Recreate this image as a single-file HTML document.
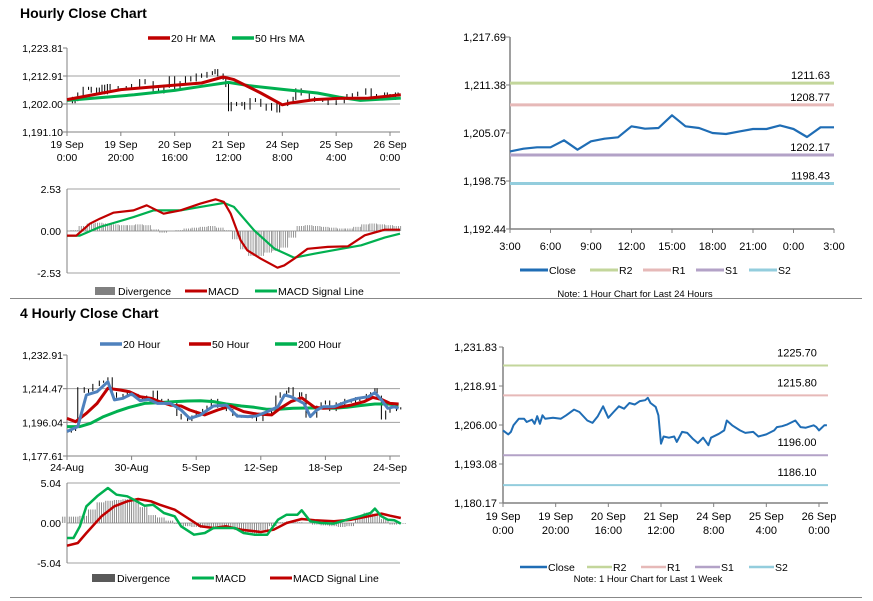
<!DOCTYPE html>
<html><head><meta charset="utf-8">
<style>
html,body{margin:0;padding:0;background:#fff;}
svg{display:block;font-family:"Liberation Sans",Arial,sans-serif;}
text{fill:#000;}
</style></head>
<body>
<svg id="s" width="873" height="601" viewBox="0 0 873 601" xmlns="http://www.w3.org/2000/svg">
<text x="20" y="18" font-size="14" font-weight="bold">Hourly Close Chart</text>
<text x="20" y="318" font-size="14" font-weight="bold">4 Hourly Close Chart</text>
<line x1="10" y1="298.5" x2="862" y2="298.5" stroke="#888"/>
<line x1="10" y1="597.5" x2="862" y2="597.5" stroke="#888"/>
</svg>
<script>
const h1Hours=[0,2,3,4,6,8,9,11,12,13,14,15,16,19,22,24,27,29,32,34,36,38,40,42,44,46,48,50,52,54,55,56,58,59,60,61,63,65,66,68,70,72,74,76,78,79,82,84,85,87,90,92,95,97,100,103,104,106,108,111,113,115,118,119,120,122,123];
const h1Close=[1204.2,1202.9,1203.7,1205.9,1208.1,1208.1,1207.0,1207.8,1206.4,1208.9,1206.4,1209.2,1208.1,1208.4,1208.1,1209.2,1211.1,1210.3,1207.5,1206.7,1208.9,1212.2,1208.4,1210.3,1212.2,1211.4,1213.3,1212.8,1213.9,1214.2,1215.0,1213.3,1212.0,1209.2,1199.8,1202.2,1201.8,1202.2,1200.4,1203.7,1203.4,1201.5,1200.0,1201.8,1199.3,1201.8,1203.1,1204.2,1207.5,1205.9,1204.2,1203.4,1203.7,1202.2,1202.9,1204.2,1205.3,1205.6,1206.2,1207.5,1205.3,1205.1,1205.9,1205.3,1204.2,1205.9,1205.9];
const ma20Hours=[0,20,31,50,58,62,72,80,83,92,101,112,124];
const ma20Vals=[1203.7,1207.6,1208.6,1210.2,1212.5,1211.5,1206.3,1201.7,1202.4,1203.7,1204.2,1204.3,1205.6];
const ma50Hours=[0,25,40,50,60,68,81,93,101,109,124];
const ma50Vals=[1203.4,1205.6,1207.3,1208.9,1210.4,1209.1,1207.6,1206.3,1204.7,1203.4,1204.3];
const h1XLabels=[["19 Sep","0:00"],["19 Sep","20:00"],["20 Sep","16:00"],["21 Sep","12:00"],["24 Sep","8:00"],["25 Sep","4:00"],["26 Sep","0:00"]];
const h1XTickHours=[0,20,40,60,80,100,120];
const h1YTicks=[1223.81,1212.91,1202.00,1191.10];
const macdHours=[0,3.5,8.5,12.2,17.2,24.7,29.6,35.9,42.1,49.6,55.2,58.3,60.8,64.5,67,72,78.2,80.7,84.4,89.4,96.9,104.4,110.6,118,123.7];
const macdVals=[-0.28,-0.28,0.44,0.74,1.10,1.24,1.55,1.04,1.24,1.65,1.91,1.75,1.04,-0.56,-1.16,-1.67,-2.21,-2.07,-1.67,-1.07,-0.96,-0.92,-0.26,0.08,0.08];
const sigHours=[0,4.7,12.2,24.7,32.1,42.1,49.6,58.3,62,69.5,77,84.4,91.9,101.9,109.3,118,123.7];
const sigVals=[-0.28,-0.28,0.24,0.84,1.24,1.24,1.45,1.69,1.45,0.04,-1.06,-1.61,-1.37,-1.07,-0.86,-0.40,-0.16];
const divVals=[0,0.05,0.3,0.45,0.5,0.45,0.4,0.35,0.35,0.4,0.35,0.1,-0.1,0,0.05,0.15,0.2,0.25,0.3,0.2,0.05,-0.5,-1.1,-1.5,-1.5,-1.3,-1.2,-1.0,-0.4,0.3,0.35,0.3,0.25,0.2,0.15,0.15,0.25,0.4,0.45,0.4,0.35,0.3];
const divStepHours=3;
const macd1YTicks=[2.53,0.00,-2.53];
const d24Labels=["3:00","6:00","9:00","12:00","15:00","18:00","21:00","0:00","3:00"];
const d24Close=[1202.65,1203.0,1203.18,1203.18,1204.1,1202.87,1203.97,1204.32,1204.5,1205.94,1205.63,1205.72,1207.39,1205.94,1205.72,1205.07,1204.93,1205.28,1205.59,1205.59,1206.07,1205.59,1204.54,1205.81,1205.81];
const d24YTicks=[1217.69,1211.38,1205.07,1198.75,1192.44];
const d24Levels=[1211.63,1208.77,1202.17,1198.43];
const wkYTicks=[1231.83,1218.91,1206.00,1193.08,1180.17];
const wkLevels=[1225.70,1215.80,1196.00,1186.10];
const levelNames=["R2","R1","S1","S2"];
const levelColors=["#c3d69b","#e6b9b8","#b3a2c7","#93cddd"];
const c4Idx=[0,2,4,5,8,10,12,15,17,19,21,23,26,28,30,33,35,37,40,42,44,47,49,51,53,56,58,60,63,65,67,70,72,74,77,79,81,84,86,88,91,93,95,97,99,102,103,105,108,109,111,113,116,118,120,122,125,127,129,132,134,136,139,141,143,144,146,148,150,153,155];
const c4Close=[1191.0,1191.9,1193.7,1214.7,1212.8,1213.7,1216.5,1218.3,1218.3,1220.1,1211.9,1210.1,1211.0,1211.9,1211.0,1209.2,1208.3,1210.1,1212.8,1208.3,1208.3,1207.4,1206.4,1200.1,1198.2,1197.3,1199.2,1201.9,1202.8,1204.6,1208.3,1204.6,1205.5,1202.8,1200.1,1199.2,1199.2,1199.2,1198.8,1197.3,1201.0,1200.1,1201.9,1210.1,1211.9,1212.8,1214.7,1210.1,1211.9,1211.0,1199.2,1199.2,1204.6,1206.4,1207.4,1202.8,1206.4,1206.1,1208.3,1207.4,1209.2,1208.3,1211.0,1211.9,1214.1,1210.1,1198.2,1201.9,1202.8,1203.7,1203.7];
const b20Idx=[0,5,9,14,19,22,26,30,34,38,42,48,53,57,62,68,74,79,84,88,93,98,101,104,107,110,113,116,119,124,130,135,140,143,146,149,152,154];
const b20Vals=[1191.0,1193.7,1211.0,1212.8,1218.3,1208.3,1209.2,1211.6,1207.9,1208.6,1206.4,1206.4,1202.8,1198.2,1200.1,1205.0,1205.5,1199.5,1199.2,1199.5,1201.9,1204.6,1211.0,1210.1,1208.3,1206.4,1199.2,1202.8,1204.6,1204.6,1207.4,1209.2,1210.1,1212.3,1208.3,1203.7,1204.6,1203.7];
const r50Idx=[0,4,9,14,19,25,29,34,39,43,48,53,57,64,70,76,82,88,95,99,104,109,115,119,126,132,138,142,146,150,154];
const r50Vals=[1198.2,1196.4,1201.0,1206.4,1214.7,1213.7,1212.8,1210.1,1209.2,1207.4,1205.5,1205.0,1202.8,1200.1,1202.8,1205.0,1201.9,1200.6,1200.1,1203.7,1207.4,1209.5,1204.3,1203.7,1204.3,1205.5,1207.4,1209.7,1208.6,1206.4,1206.1];
const g200Idx=[0,6,11,17,23,29,36,42,50,56,62,68,74,81,87,93,99,105,112,118,124,130,136,143,149,154];
const g200Vals=[1193.7,1193.7,1195.5,1199.2,1201.9,1204.3,1206.4,1206.8,1207.4,1207.7,1207.9,1207.4,1206.1,1205.0,1204.3,1203.2,1203.3,1203.7,1203.9,1203.9,1203.7,1204.3,1205.2,1206.1,1206.1,1205.5];
const h4XLabels=["24-Aug","30-Aug","5-Sep","12-Sep","18-Sep","24-Sep"];
const h4XTickIdx=[0,30,60,90,120,150];
const h4YTicks=[1232.91,1214.47,1196.04,1177.61];
const m4Idx=[0,3,6,9,14,19,23,28,31,36,40,45,50,53,59,64,68,73,78,82,87,93,98,102,107,109,113,118,124,130,136,141,143,146,149,152,155];
const m4Vals=[-1.89,-1.89,-0.42,2.1,3.36,4.41,3.57,3.36,2.94,2.18,2.31,1.26,0.84,-0.42,-1.47,-1.26,-0.63,-0.63,-0.63,-1.26,-1.47,-1.47,0.42,1.05,1.05,1.6,0.21,0,-0.08,0.42,0.84,1.26,1.81,0.84,0.42,0.34,-0.08];
const s4Idx=[0,5,9,16,22,28,33,39,43,50,56,62,68,74,81,90,96,102,109,115,124,132,140,146,150,155];
const s4Vals=[-2.86,-2.52,-1.26,0.84,2.1,2.73,3.03,2.73,2.31,1.68,0.63,-0.42,-0.63,-0.42,-0.84,-1.13,-0.84,0,0.5,0.34,0.21,0.42,0.84,1.18,0.92,0.63];
const d4Vals=[0.8,0.8,0.9,1.7,2.6,2.8,2.9,3.0,3.0,2.0,1.0,0.7,0.3,-0.1,-0.4,-0.5,-0.6,-0.6,-0.5,-0.7,-0.9,-1.2,-1.3,-0.9,-0.4,0.1,0.2,0.1,0,-0.2,-0.3,-0.4,-0.5,-0.4,0.6,1.3,1.2,0.5,-0.2,-0.1];
const d4StepIdx=4;
const macd4YTicks=[5.04,0.00,-5.04];

const RED="#c00000",GREEN="#00b050",BLUE20="#4f81bd",CLOSE="#1f6db5",GRID="#a0a0a0";
const svg=document.getElementById('s');
const NS="http://www.w3.org/2000/svg";
function mk(tag,attrs,parent){const e=document.createElementNS(NS,tag);for(const k in attrs)e.setAttribute(k,attrs[k]);(parent||svg).appendChild(e);return e;}
function group(name){const g=mk('g',{});return g;}
function lin(d0,d1,r0,r1){return v=>r0+(v-d0)*(r1-r0)/(d1-d0);}
function fmt(v,d){return v.toLocaleString('en-US',{minimumFractionDigits:d,maximumFractionDigits:d});}
function poly(g,xs,ys,xf,yf,color,w,name){
  const p=xs.map((x,i)=>xf(x).toFixed(1)+','+yf(ys[i]).toFixed(1)).join(' ');
  const e=mk('polyline',{points:p,fill:'none',stroke:color,'stroke-width':w,'stroke-linejoin':'round'},g);
  
  
  return e;
}
function txt(g,x,y,s,anchor,size,name){
  const t=mk('text',{x:x,y:y,'font-size':size||10.5,'text-anchor':anchor||'start'},g);
  t.textContent=s;
  
  
  return t;
}
function hline(g,x1,x2,y,color,w,name){
  const e=mk('line',{x1:x1,x2:x2,y1:y,y2:y,stroke:color,'stroke-width':w||1},g);
  
  
  return e;
}
function vline(g,x,y1,y2,color,w,name){
  const e=mk('line',{x1:x,x2:x,y1:y1,y2:y2,stroke:color,'stroke-width':w||1},g);
  
  
  return e;
}
function legendLine(g,x,y,color,label,w,name,len){
  const l=mk('line',{x1:x,x2:x+(len||22),y1:y,y2:y,stroke:color,'stroke-width':w||3.5},g);
  
  
  txt(g,x+(len||22)+1,y+4,label,'start',10.5,name+'-label');
}
function bars(g,xs,ys,xf,yf){
  for(let i=1;i<xs.length;i++){
    const lo=Math.min(ys[i-1],ys[i])-0.6,hi=Math.max(ys[i-1],ys[i])+0.6;
    const e=mk('line',{x1:xf(xs[i]),x2:xf(xs[i]),y1:yf(lo),y2:yf(hi),stroke:'#000','stroke-width':1},g);
    
    
  }
}
// hatched divergence bars: thin 1px lines spread across each step
function divBars(g,vals,step,xf,yf,color){
  const pxStep=xf(step)-xf(0);
  vals.forEach((v,i)=>{
    const xc=xf(i*step),y0=yf(0),y1=yf(v);
    for(let o=-pxStep/2;o<pxStep/2;o+=2.2){
      const e=mk('line',{x1:xc+o,x2:xc+o,y1:y0,y2:y1,stroke:color,'stroke-width':0.9},g);
      
      
    }
  });
}

(function(){
  const g=group('hourly-price-chart');
  const X0=67,X1=400,Y0=48,Y1=132;
  const xf=lin(0,120,67,390), yf=lin(1223.81,1191.10,Y0,Y1);
  h1YTicks.forEach((v,i)=>{ if(i>0&&i<3) hline(g,X0,X1,yf(v),GRID,1,'gridline');
    hline(g,X0-4,X0,yf(v),'#808080',1,'y-tick');
    txt(g,X0-4,yf(v)+4,fmt(v,2),'end',10.5,'y-tick-label');});
  vline(g,X0,Y0,Y1,'#808080',1,'y-axis');
  hline(g,X0,X1,Y1,'#808080',1,'x-axis');
  h1XTickHours.forEach((h,i)=>{vline(g,xf(h),Y1,Y1+4,'#808080',1,'x-tick');
    txt(g,xf(h),Y1+16,h1XLabels[i][0],'middle',10.5,'x-tick-label');
    txt(g,xf(h),Y1+29,h1XLabels[i][1],'middle',10.5,'x-tick-label');});
  bars(g,h1Hours,h1Close,xf,yf);
  poly(g,ma50Hours,ma50Vals,xf,yf,GREEN,3,'ma-50-line');
  poly(g,ma20Hours,ma20Vals,xf,yf,RED,3,'ma-20-line');
  legendLine(g,148,38,RED,'20 Hr MA',3.5,'legend-20hr-ma');
  legendLine(g,232,38,GREEN,'50 Hrs MA',3.5,'legend-50hrs-ma');
})();
(function(){
  const g=group('hourly-macd-chart');
  const X0=67,X1=400;
  const xf=lin(0,120,67,390), yf=lin(2.53,-2.53,189,273);
  macd1YTicks.forEach(v=>{hline(g,X0,X1,yf(v),GRID,1,'gridline');
    txt(g,X0-6,yf(v)+4,fmt(v,2),'end',10.5,'y-tick-label');});
  vline(g,X0,189,273,'#808080',1,'y-axis');
  divBars(g,divVals,divStepHours,xf,yf,'#8c8c8c');
  poly(g,sigHours,sigVals,xf,yf,GREEN,2.2,'macd-signal-line');
  poly(g,macdHours,macdVals,xf,yf,RED,2.2,'macd-line');
  const r=mk('rect',{x:95,y:287,width:20,height:8,fill:'#808080'},g);
  
  
  txt(g,118,295,'Divergence','start',10.5,'legend-divergence-label');
  legendLine(g,185,291,RED,'MACD',3,'legend-macd');
  legendLine(g,255,291,GREEN,'MACD Signal Line',3,'legend-macd-signal');
})();
(function(){
  const g=group('last-24h-chart');
  const X0=510,X1=834,Y0=37,Y1=229;
  const xf=lin(0,24,X0,X1), yf=lin(1217.69,1192.44,Y0,Y1);
  vline(g,X0,Y0,Y1,'#808080',1.5,'y-axis');
  hline(g,X0,X1,Y1,'#808080',1.5,'x-axis');
  d24YTicks.forEach(v=>{hline(g,X0-4,X0,yf(v),'#808080',1,'y-tick');
    txt(g,X0-4,yf(v)+4,fmt(v,2),'end',11,'y-tick-label');});
  d24Labels.forEach((s,i)=>{vline(g,xf(i*3),Y1,Y1+4,'#808080',1,'x-tick');
    txt(g,xf(i*3),Y1+21,s,'middle',11,'x-tick-label');});
  d24Levels.forEach((v,i)=>{hline(g,X0,X1,yf(v),levelColors[i],3,'level-'+levelNames[i].toLowerCase());
    txt(g,X1-4,yf(v)-4,v.toFixed(2),'end',11,'level-label-'+levelNames[i].toLowerCase());});
  poly(g,d24Close.map((v,i)=>i),d24Close,xf,yf,CLOSE,2.2,'close-line');
  legendLine(g,520,270,CLOSE,'Close',3,'legend-close',28);
  levelNames.forEach((n,i)=>legendLine(g,590+i*53,270,levelColors[i],n,3,'legend-'+n.toLowerCase(),28));
  txt(g,635,297,'Note: 1 Hour Chart for Last 24 Hours','middle',9.5,'note-24h');
})();
(function(){
  const g=group('four-hourly-price-chart');
  const X0=67,X1=400,Y0=355,Y1=456;
  const xf=lin(0,150,67,390), yf=lin(1232.91,1177.61,Y0,Y1);
  h4YTicks.forEach((v,i)=>{ if(i>0&&i<3) hline(g,X0,X1,yf(v),GRID,1,'gridline');
    hline(g,X0-4,X0,yf(v),'#808080',1,'y-tick');
    txt(g,X0-4,yf(v)+4,fmt(v,2),'end',10.5,'y-tick-label');});
  vline(g,X0,Y0,Y1,'#808080',1,'y-axis');
  hline(g,X0,X1,Y1,'#808080',1,'x-axis');
  h4XTickIdx.forEach((h,i)=>{vline(g,xf(h),Y1,Y1+4,'#808080',1,'x-tick');
    txt(g,xf(h),Y1+15,h4XLabels[i],'middle',10.5,'x-tick-label');});
  bars(g,c4Idx,c4Close,xf,yf);
  poly(g,g200Idx,g200Vals,xf,yf,GREEN,3,'ma-200-line');
  poly(g,r50Idx,r50Vals,xf,yf,RED,3,'ma-50-line');
  poly(g,b20Idx,b20Vals,xf,yf,BLUE20,3,'ma-20-line');
  legendLine(g,100,344,BLUE20,'20 Hour',3.5,'legend-20-hour');
  legendLine(g,189,344,RED,'50 Hour',3.5,'legend-50-hour');
  legendLine(g,275,344,GREEN,'200 Hour',3.5,'legend-200-hour');
})();
(function(){
  const g=group('four-hourly-macd-chart');
  const X0=67,X1=400;
  const xf=lin(0,150,67,390), yf=lin(5.04,-5.04,483,563);
  macd4YTicks.forEach(v=>{hline(g,X0,X1,yf(v),GRID,1,'gridline');
    txt(g,X0-6,yf(v)+4,fmt(v,2),'end',10.5,'y-tick-label');});
  vline(g,X0,483,563,'#808080',1,'y-axis');
  divBars(g,d4Vals,d4StepIdx,xf,yf,'#7f7f7f');
  poly(g,s4Idx,s4Vals,xf,yf,RED,2.5,'macd-signal-line');
  poly(g,m4Idx,m4Vals,xf,yf,GREEN,2.5,'macd-line');
  const r=mk('rect',{x:92,y:574,width:23,height:8,fill:'#595959'},g);
  
  
  txt(g,117,582,'Divergence','start',10.5,'legend-divergence-label');
  legendLine(g,192,578,GREEN,'MACD',3,'legend-macd');
  legendLine(g,270,578,RED,'MACD Signal Line',3,'legend-macd-signal');
})();
(function(){
  const g=group('last-week-chart');
  const X0=503,X1=828,Y0=347,Y1=503;
  const xf=lin(0,120,503,819), yf=lin(1231.83,1180.17,Y0,Y1);
  vline(g,X0,Y0,Y1,'#808080',1.5,'y-axis');
  hline(g,X0,X1,Y1,'#808080',1.5,'x-axis');
  wkYTicks.forEach(v=>{hline(g,X0-4,X0,yf(v),'#808080',1,'y-tick');
    txt(g,X0-6,yf(v)+4,fmt(v,2),'end',11,'y-tick-label');});
  h1XTickHours.forEach((h,i)=>{vline(g,xf(h),Y1,Y1+4,'#808080',1,'x-tick');
    txt(g,xf(h),Y1+17,h1XLabels[i][0],'middle',11,'x-tick-label');
    txt(g,xf(h),Y1+31,h1XLabels[i][1],'middle',11,'x-tick-label');});
  wkLevels.forEach((v,i)=>{hline(g,X0,X1,yf(v),levelColors[i],2,'level-'+levelNames[i].toLowerCase());
    txt(g,797,yf(v)-9,v.toFixed(2),'middle',11,'level-label-'+levelNames[i].toLowerCase());});
  poly(g,h1Hours,h1Close,xf,yf,CLOSE,2,'close-line');
  legendLine(g,520,567,CLOSE,'Close',2.5,'legend-close',27);
  levelNames.forEach((n,i)=>legendLine(g,587+i*54,567,levelColors[i],n,2.5,'legend-'+n.toLowerCase(),25));
  txt(g,648,582,'Note: 1 Hour Chart for Last 1 Week','middle',9.5,'note-1w');
})();
</script>
</body></html>
